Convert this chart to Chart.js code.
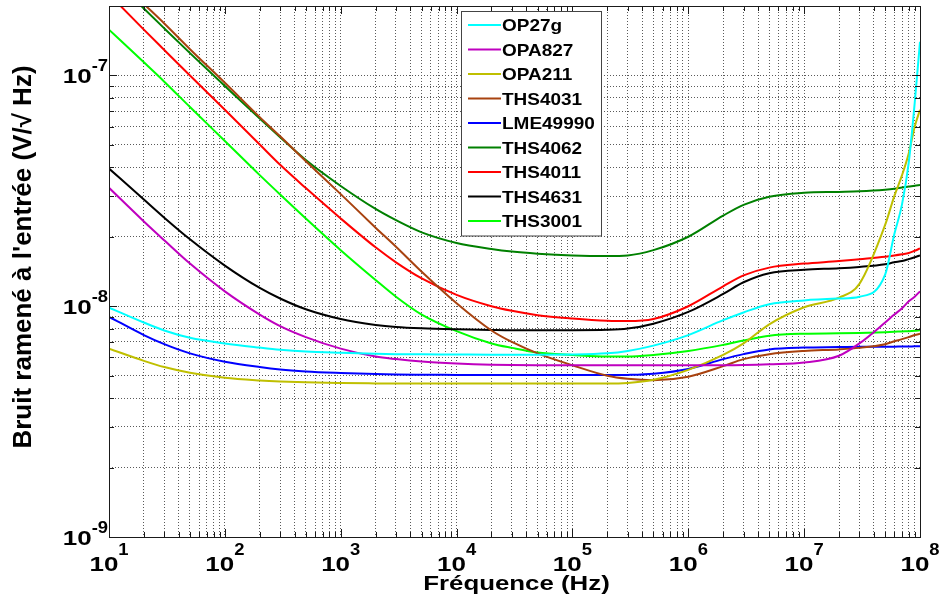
<!DOCTYPE html>
<html>
<head>
<meta charset="utf-8">
<script src="https://cdn.jsdelivr.net/npm/chart.js@4/dist/chart.umd.min.js"></script>
<style>
html,body{margin:0;padding:0;background:#fff;overflow:hidden}
canvas{display:block}
</style>
</head>
<body>
<canvas id="c" width="939" height="603"></canvas>
<script>
// ---------- data ----------
const frequencies = [10,20,30,50,100,200,300,500,1e3,2e3,3e3,5e3,1e4,2e4,3e4,5e4,1e5,2e5,3e5,5e5,1e6,2e6,3e6,5e6,1e7,2e7,3e7,5e7,6e7,7e7,8e7,9e7,1e8];

const seriesNames = ['OP27g','OPA827','OPA211','THS4031','LME49990','THS4062','THS4011','THS4631','THS3001'];

const op27g    = [9.87e-9,8.5e-9,7.85e-9,7.3e-9,6.9e-9,6.62e-9,6.48e-9,6.36e-9,6.28e-9,6.22e-9,6.2e-9,6.19e-9,6.18e-9,6.17e-9,6.17e-9,6.17e-9,6.18e-9,6.25e-9,6.4e-9,6.75e-9,7.5e-9,8.7e-9,9.4e-9,1.02e-8,1.06e-8,1.08e-8,1.1e-8,1.37e-8,2.05e-8,2.77e-8,4.2e-8,7.6e-8,1.4e-7];
const opa827   = [3.26e-8,2.33e-8,1.93e-8,1.53e-8,1.16e-8,9.2e-9,8.2e-9,7.35e-9,6.55e-9,6.05e-9,5.9e-9,5.76e-9,5.65e-9,5.58e-9,5.56e-9,5.55e-9,5.55e-9,5.55e-9,5.55e-9,5.55e-9,5.55e-9,5.55e-9,5.56e-9,5.6e-9,5.7e-9,6.1e-9,6.9e-9,8.5e-9,9.2e-9,9.8e-9,1.05e-8,1.1e-8,1.16e-8];
const opa211   = [6.55e-9,5.8e-9,5.45e-9,5.15e-9,4.9e-9,4.77e-9,4.72e-9,4.68e-9,4.65e-9,4.63e-9,4.62e-9,4.62e-9,4.62e-9,4.62e-9,4.62e-9,4.62e-9,4.62e-9,4.62e-9,4.65e-9,4.8e-9,5.3e-9,6.15e-9,6.9e-9,8.35e-9,9.9e-9,1.09e-8,1.25e-8,2.25e-8,3.0e-8,3.7e-8,4.6e-8,6.0e-8,7.1e-8];
const ths4031  = [2.85e-7,2.04e-7,1.68e-7,1.3e-7,9.3e-8,6.6e-8,5.45e-8,4.25e-8,3.06e-8,2.19e-8,1.81e-8,1.41e-8,1.03e-8,7.85e-9,7.0e-9,6.25e-9,5.55e-9,5.0e-9,4.85e-9,4.78e-9,4.95e-9,5.5e-9,5.9e-9,6.2e-9,6.4e-9,6.5e-9,6.6e-9,6.85e-9,7.05e-9,7.2e-9,7.35e-9,7.5e-9,7.6e-9];
const lme49990 = [9.0e-9,7.5e-9,6.85e-9,6.25e-9,5.75e-9,5.45e-9,5.32e-9,5.22e-9,5.14e-9,5.08e-9,5.06e-9,5.05e-9,5.04e-9,5.03e-9,5.03e-9,5.03e-9,5.03e-9,5.03e-9,5.04e-9,5.1e-9,5.35e-9,5.9e-9,6.2e-9,6.5e-9,6.62e-9,6.65e-9,6.67e-9,6.68e-9,6.68e-9,6.69e-9,6.69e-9,6.7e-9,6.7e-9];
const ths4062  = [2.75e-7,1.95e-7,1.6e-7,1.25e-7,9.0e-8,6.5e-8,5.4e-8,4.3e-8,3.32e-8,2.64e-8,2.36e-8,2.09e-8,1.88e-8,1.77e-8,1.725e-8,1.69e-8,1.66e-8,1.65e-8,1.66e-8,1.75e-8,2.0e-8,2.47e-8,2.75e-8,2.98e-8,3.1e-8,3.13e-8,3.15e-8,3.2e-8,3.23e-8,3.27e-8,3.3e-8,3.33e-8,3.35e-8];
const ths4011  = [2.25e-7,1.58e-7,1.29e-7,1.0e-7,7.1e-8,5.02e-8,4.1e-8,3.25e-8,2.4e-8,1.8e-8,1.55e-8,1.32e-8,1.12e-8,1.0e-8,9.55e-9,9.15e-9,8.85e-9,8.65e-9,8.62e-9,8.8e-9,1.0e-8,1.22e-8,1.36e-8,1.47e-8,1.53e-8,1.57e-8,1.6e-8,1.64e-8,1.66e-8,1.68e-8,1.7e-8,1.74e-8,1.78e-8];
const ths4631  = [3.95e-8,2.9e-8,2.42e-8,1.95e-8,1.5e-8,1.2e-8,1.08e-8,9.7e-9,8.8e-9,8.3e-9,8.13e-9,8.02e-9,7.94e-9,7.89e-9,7.87e-9,7.87e-9,7.87e-9,7.9e-9,8.0e-9,8.4e-9,9.45e-9,1.13e-8,1.27e-8,1.39e-8,1.44e-8,1.46e-8,1.48e-8,1.52e-8,1.55e-8,1.57e-8,1.6e-8,1.63e-8,1.66e-8];
const ths3001  = [1.58e-7,1.14e-7,9.4e-8,7.3e-8,5.2e-8,3.7e-8,3.05e-8,2.4e-8,1.75e-8,1.3e-8,1.1e-8,9.2e-9,7.8e-9,6.9e-9,6.6e-9,6.3e-9,6.15e-9,6.05e-9,6.05e-9,6.15e-9,6.4e-9,6.8e-9,7.1e-9,7.45e-9,7.6e-9,7.63e-9,7.66e-9,7.72e-9,7.75e-9,7.78e-9,7.8e-9,7.83e-9,7.87e-9];

const xExponents = [1,2,3,4,5,6,7,8];      // tick labels 10^1 .. 10^8
const yExponents = [-9,-8,-7];             // tick labels 10^-9 .. 10^-7
const xTitle = 'Fréquence (Hz)';
const yTitle = "Bruit ramené à l'entrée (V/\u221A Hz)";

// ---------- styles ----------
const seriesValues = [op27g, opa827, opa211, ths4031, lme49990, ths4062, ths4011, ths4631, ths3001];
const seriesColors = ['#00ffff','#bf00bf','#bfbf00','#a8420f','#0000ff','#008000','#ff0000','#000000','#00ff00'];
const FONT = '"Liberation Sans", Arial, Helvetica, sans-serif';

function gridValues(minExp, maxExp, extra) {
  const out = [];
  for (let e = minExp; e < maxExp; e++) for (let m = 1; m <= 9; m++) out.push({value: m * Math.pow(10, e), major: m === 1});
  out.push({value: Math.pow(10, maxExp), major: true});
  (extra || []).forEach(v => out.push({value: v, major: false}));
  return out;
}

function drawScaled(ctx, text, x, y, size, sx, align) {
  ctx.save();
  ctx.font = 'bold ' + size + 'px ' + FONT;
  const w = ctx.measureText(text).width * sx;
  let left = x;
  if (align === 'center') left = x - w / 2;
  else if (align === 'right') left = x - w;
  ctx.translate(left, y);
  ctx.scale(sx, 1);
  ctx.textAlign = 'left';
  ctx.textBaseline = 'alphabetic';
  ctx.fillStyle = '#000';
  ctx.fillText(text, 0, 0);
  ctx.restore();
  return w;
}
function measureScaled(ctx, text, size, sx) {
  ctx.save();
  ctx.font = 'bold ' + size + 'px ' + FONT;
  const w = ctx.measureText(text).width * sx;
  ctx.restore();
  return w;
}

const BASE = {size: 20, sx: 1.3};
const SUP = {size: 16, sx: 1.15};

const decorPlugin = {
  id: 'decor',
  afterDraw(chart) {
    const ctx = chart.ctx;
    const xs = chart.scales.x, ys = chart.scales.y;
    const a = chart.chartArea;
    ctx.save();
    // inner tick marks
    ctx.strokeStyle = '#1a1a1a';
    ctx.lineWidth = 1;
    ctx.beginPath();
    xs.ticks.forEach(t => {
      const px = Math.round(xs.getPixelForValue(t.value)) + 0.5;
      const len = t.major ? 8 : 5;
      ctx.moveTo(px, a.bottom); ctx.lineTo(px, a.bottom - len);
      ctx.moveTo(px, a.top); ctx.lineTo(px, a.top + len);
    });
    ys.ticks.forEach(t => {
      const py = Math.round(ys.getPixelForValue(t.value)) + 0.5;
      const len = t.major ? 8 : 5;
      ctx.moveTo(a.left, py); ctx.lineTo(a.left + len, py);
      ctx.moveTo(a.right, py); ctx.lineTo(a.right - len, py);
    });
    ctx.stroke();
    // axes box
    ctx.strokeStyle = '#1a1a1a';
    ctx.strokeRect(Math.round(a.left) + 0.5, Math.round(a.top) + 0.5, Math.round(a.right - a.left), Math.round(a.bottom - a.top));

    // x tick labels
    xExponents.forEach(e => {
      const px = xs.getPixelForValue(Math.pow(10, e));
      const sup = String(e);
      const w10 = measureScaled(ctx, '10', BASE.size, BASE.sx);
      const ws = measureScaled(ctx, sup, SUP.size, SUP.sx);
      const left = px - (w10 + ws) / 2;
      drawScaled(ctx, '10', left, 571, BASE.size, BASE.sx, 'left');
      drawScaled(ctx, sup, left + w10, 555, SUP.size, SUP.sx, 'left');
    });
    // y tick labels
    yExponents.forEach(e => {
      const py = ys.getPixelForValue(Math.pow(10, e));
      const sup = String(e);
      const w10 = measureScaled(ctx, '10', BASE.size, BASE.sx);
      const ws = measureScaled(ctx, sup, SUP.size, SUP.sx);
      const right = 108;
      drawScaled(ctx, '10', right - ws - w10, py + 7.5, BASE.size, BASE.sx, 'left');
      drawScaled(ctx, sup, right - ws, py - 4, SUP.size, SUP.sx, 'left');
    });
    // axis titles
    drawScaled(ctx, xTitle, (a.left + a.right) / 2 + 2, 590, 21, 1.23, 'center');
    ctx.save();
    ctx.translate(31, 257);
    ctx.rotate(-Math.PI / 2);
    drawScaled(ctx, yTitle, 0, 0, 25, 1.04, 'center');
    ctx.restore();

    // legend
    const lx = 461.5, ly = 11.5, lw = 140, lh = 224.5;
    ctx.fillStyle = '#fff';
    ctx.fillRect(lx, ly, lw, lh);
    ctx.strokeStyle = '#444';
    ctx.lineWidth = 1;
    ctx.strokeRect(lx, ly, lw, lh);
    chart.data.datasets.forEach((ds, i) => {
      const ry = 25 + i * 24.5;
      ctx.strokeStyle = ds.borderColor;
      ctx.lineWidth = 2;
      ctx.beginPath();
      ctx.moveTo(468, ry); ctx.lineTo(501, ry);
      ctx.stroke();
      drawScaled(ctx, ds.label, 502, ry + 6, 16.5, 1.15, 'left');
    });
    ctx.restore();
  }
};

const datasets = seriesNames.map((name, i) => ({
  label: name,
  data: frequencies.map((f, k) => ({x: f, y: seriesValues[i][k]})),
  borderColor: seriesColors[i],
  backgroundColor: seriesColors[i],
  borderWidth: 2,
  pointRadius: 0,
  fill: false,
  cubicInterpolationMode: 'monotone'
}));

const gridStyle = {color: '#5a5a5a', lineWidth: 1, drawTicks: false};

new Chart(document.getElementById('c'), {
  type: 'line',
  data: {datasets},
  options: {
    responsive: false,
    animation: false,
    devicePixelRatio: 1,
    layout: {padding: {left: 109, right: 19, top: 6, bottom: 66}},
    plugins: {legend: {display: false}, tooltip: {enabled: false}},
    scales: {
      x: {
        type: 'logarithmic', min: 10, max: 1e8,
        grid: gridStyle,
        border: {display: false, dash: [1, 2]},
        ticks: {display: false},
        afterBuildTicks: s => { s.ticks = gridValues(1, 8); }
      },
      y: {
        type: 'logarithmic', min: 1e-9, max: 2e-7,
        grid: gridStyle,
        border: {display: false, dash: [1, 2]},
        ticks: {display: false},
        afterBuildTicks: s => { s.ticks = gridValues(-9, -7, [2e-7]); }
      }
    }
  },
  plugins: [decorPlugin]
});
</script>
</body>
</html>
